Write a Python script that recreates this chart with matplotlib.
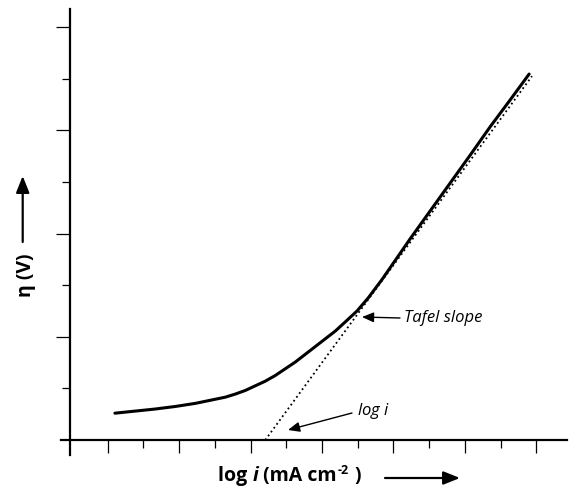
import numpy as np
import matplotlib
matplotlib.use("Agg")
import matplotlib.pyplot as plt

plt.rcParams['font.family'] = ['Open Sans', 'DejaVu Sans']
plt.rcParams['mathtext.fontset'] = 'custom'
plt.rcParams['mathtext.rm'] = 'Open Sans'
plt.rcParams['mathtext.it'] = 'Open Sans:italic'

# polarisation curve (log i vs overpotential)
log_i = [1.20, 1.76, 2.32, 2.89, 3.45, 4.01, 4.29, 4.57, 4.85, 5.13,
         5.41, 5.69, 5.97, 6.25, 6.53, 6.81, 7.09, 7.37, 7.67, 7.98,
         8.29, 8.68, 9.08, 9.47, 10.03, 10.59, 11.15, 11.71, 12.27, 12.80]
eta = [0.52, 0.56, 0.60, 0.65, 0.71, 0.79, 0.83, 0.89, 0.96, 1.05,
       1.14, 1.25, 1.38, 1.51, 1.66, 1.81, 1.96, 2.11, 2.30, 2.50,
       2.75, 3.11, 3.51, 3.90, 4.44, 4.98, 5.52, 6.07, 6.59, 7.09]

# Tafel tangent line
tafel_x = [5.41, 12.88]
tafel_y = [0.00, 7.05]

W, H = 569, 492


def fp(x, y):
    # pixel position (top-left origin) -> figure fraction
    return (x / W, 1 - y / H)


fig = plt.figure(figsize=(W / 100, H / 100), dpi=100)
ax = fig.add_axes([61 / W, 1 - 455 / H, (567 - 61) / W, (455 - 9) / H])

ax.plot(log_i, eta, color='black', lw=2.2, solid_capstyle='round', solid_joinstyle='round')
ax.plot(tafel_x, tafel_y, color='black', lw=1.3, linestyle=':')

ax.set_xlim(-0.31, 13.86)
ax.set_ylim(-0.29, 8.35)

for s in ['top', 'right']:
    ax.spines[s].set_visible(False)
ax.spines['left'].set_position(('data', -0.056))
ax.spines['bottom'].set_position(('data', 0))
ax.spines['left'].set_linewidth(1.6)
ax.spines['bottom'].set_linewidth(1.6)

ax.set_xticks([1, 3, 5, 7, 9, 11, 13])
ax.set_xticks([2, 4, 6, 8, 10, 12], minor=True)
ax.set_yticks([2, 4, 6, 8])
ax.set_yticks([1, 3, 5, 7], minor=True)
ax.set_xticklabels([])
ax.set_yticklabels([])
ax.tick_params(axis='x', which='major', direction='out', length=9.4, width=0.9)
ax.tick_params(axis='x', which='minor', direction='out', length=5.8, width=0.9)
ax.tick_params(axis='y', which='major', direction='out', length=10.1, width=0.9)
ax.tick_params(axis='y', which='minor', direction='out', length=5.8, width=0.9)

arrow = dict(arrowstyle='-|>,head_length=0.7,head_width=0.3', color='black', lw=1.0,
             shrinkA=0, shrinkB=0)

# annotations
ax.annotate('', xy=fp(362, 317), xycoords='figure fraction',
            xytext=fp(400, 318), textcoords='figure fraction', arrowprops=arrow)
fig.text(*fp(404, 318), 'Tafel slope', fontsize=12, style='italic', ha='left', va='center')

ax.annotate('', xy=fp(288, 430), xycoords='figure fraction',
            xytext=fp(352, 413), textcoords='figure fraction', arrowprops=arrow)
fig.text(*fp(357, 411), 'log $\\mathit{i}$', fontsize=12, style='italic', ha='left', va='center')

# axis labels with arrows
fig.text(*fp(26, 275), 'η (V)', fontsize=14, fontweight='bold', rotation=90,
         ha='center', va='center')
big_arrow = dict(arrowstyle='-|>,head_length=1.0,head_width=0.4', color='black', lw=1.6,
                 shrinkA=0, shrinkB=0)
ax.annotate('', xy=fp(22.7, 176), xycoords='figure fraction',
            xytext=fp(22.7, 242), textcoords='figure fraction', arrowprops=big_arrow)

# x label built from pieces so the italic i and the superscript both work
renderer = fig.canvas.get_renderer()
x0, ybase = 218, 481
pieces = [('log ', 'normal'), ('i', 'italic'), (' (mA cm', 'normal')]
for txt, st in pieces:
    t = fig.text(*fp(x0, ybase), txt, fontsize=14, fontweight='bold', style=st,
                 ha='left', va='baseline')
    x0 += t.get_window_extent(renderer).width
t = fig.text(*fp(x0 + 0.5, ybase - 7), '-2', fontsize=9, fontweight='bold',
             ha='left', va='baseline')
x0 += t.get_window_extent(renderer).width + 1
fig.text(*fp(x0 + 6, ybase), ')', fontsize=14, fontweight='bold', ha='left', va='baseline')

ax.annotate('', xy=fp(460, 478), xycoords='figure fraction',
            xytext=fp(385, 478), textcoords='figure fraction', arrowprops=big_arrow)

fig.savefig('out.png', dpi=100)
